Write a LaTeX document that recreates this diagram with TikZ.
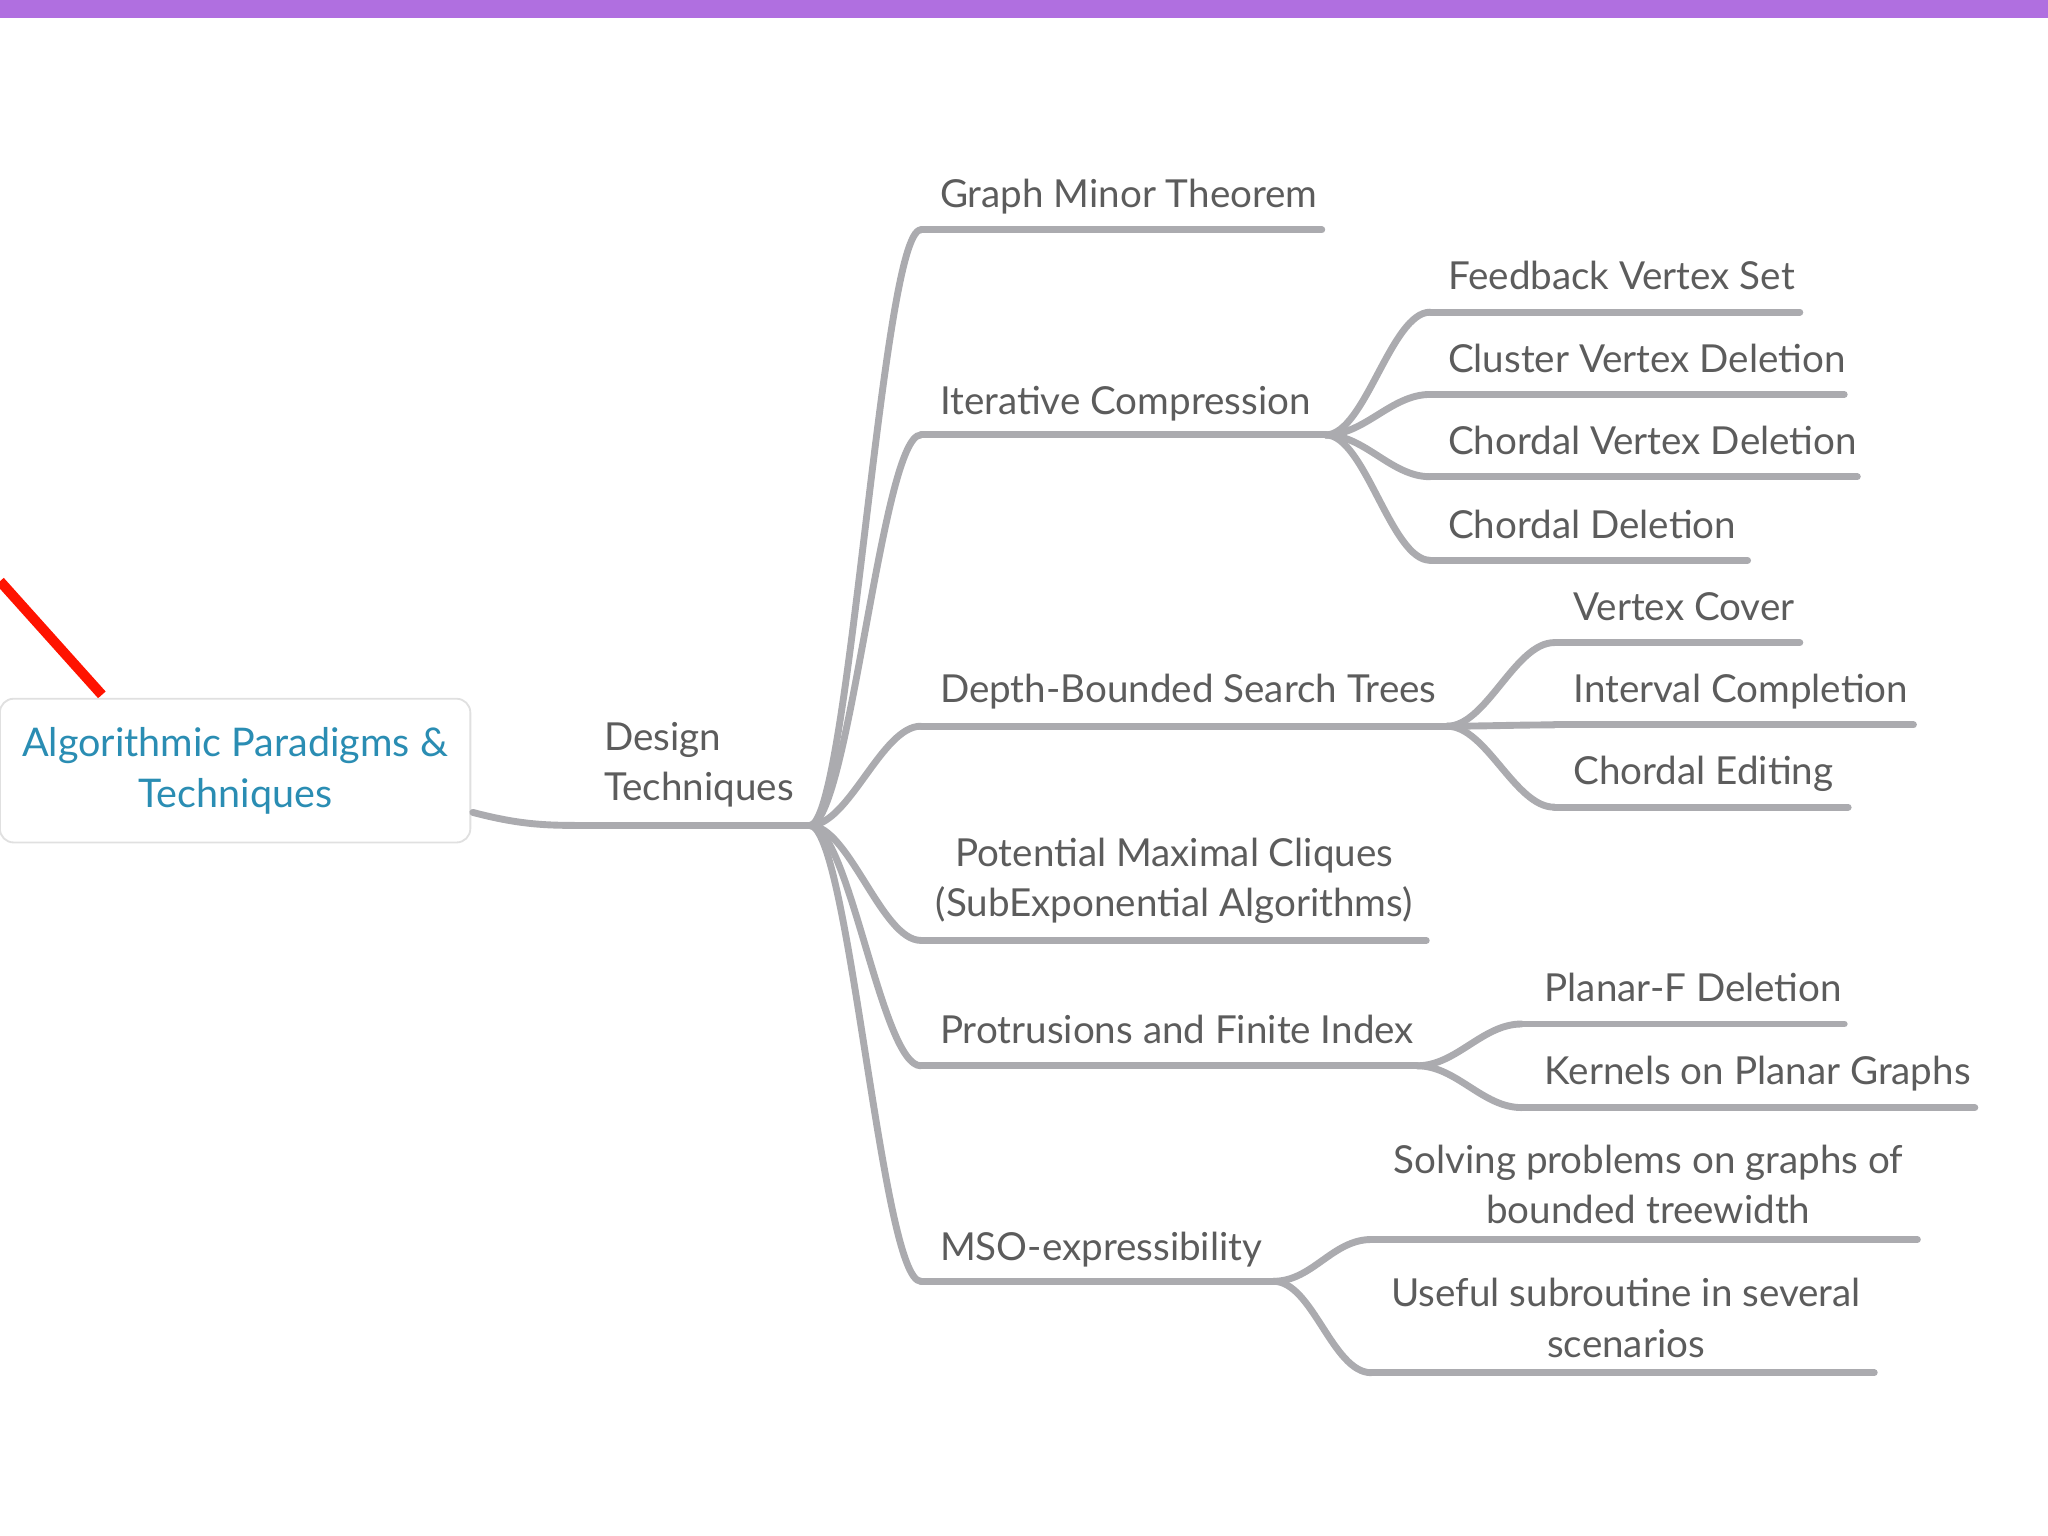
\documentclass[tikz,border=0pt]{standalone}
\usepackage{fontspec}
\setmainfont{Lato}
\usetikzlibrary{calc}
\definecolor{br}{HTML}{ABABAF}
\definecolor{tx}{HTML}{5C5C5C}
\definecolor{teal}{HTML}{2A8DB3}
\definecolor{purp}{HTML}{B06FE0}
\begin{document}
\begin{tikzpicture}[x=0.01cm,y=-0.01cm,
  br/.style={draw=br,line width=1.5pt,line cap=round},
  lbl/.style={text=tx,font=\fontsize{8.4}{11}\selectfont,inner sep=0pt,anchor=base west},
  lblc/.style={text=tx,font=\fontsize{8.4}{11}\selectfont,inner sep=0pt,align=center,anchor=south}]
\useasboundingbox (0,0) rectangle (1568,1176);
\fill[purp] (0,0) rectangle (1568,14);
\newcommand{\conn}[2]{\draw[br] (#1) .. controls ($(#1)+(30,0)$) and ($(#2)+(-30,0)$) .. (#2);}
\newcommand{\ul}[2]{\draw[br] (#1) -- (#2);}
% root
\draw[red!85!orange,line width=2.2pt] (0,445) -- (78,532);
\node[draw=black!12,fill=white,rounded corners=3pt,minimum width=3.6cm,minimum height=1.1cm,text=teal,align=center,font=\fontsize{8.6}{11}\selectfont] (root) at (180,590) {Algorithmic Paradigms \&\\Techniques};
\coordinate (r) at (362,622);
\coordinate (hub) at (620,632);
\draw[br] (r) .. controls (400,632) and (420,632) .. (450,632) -- (hub);
\node[lbl,align=left,anchor=north west] (dt) at (462,552) {Design\\Techniques};
% level 1
\coordinate (g0) at (705,176); \coordinate (g1) at (1012,176);
\coordinate (i0) at (705,333); \coordinate (i1) at (1015,333);
\coordinate (d0) at (705,556); \coordinate (d1) at (1108,556);
\coordinate (p0) at (705,720); \coordinate (p1) at (1092,720);
\coordinate (t0) at (705,816); \coordinate (t1) at (1085,816);
\coordinate (m0) at (705,981); \coordinate (m1) at (975,981);
\foreach \a/\b in {g0/g1,i0/i1,d0/d1,p0/p1,t0/t1,m0/m1}{\conn{hub}{\a}\ul{\a}{\b}}
\node[lbl] (gmt) at (719,159) {Graph Minor Theorem};
\node[lbl] (ic) at (719,317) {Iterative Compression};
\node[lbl] (dbst) at (719,538) {Depth-Bounded Search Trees};
\node[lblc] (pmc) at (899,708) {Potential Maximal Cliques\\(SubExponential Algorithms)};
\node[lbl] (pfi) at (719,799) {Protrusions and Finite Index};
\node[lbl] (mso) at (719,965) {MSO-expressibility};
% iterative compression children
\coordinate (f0) at (1095,239); \coordinate (f1) at (1378,239);
\coordinate (c0) at (1095,302); \coordinate (c1) at (1412,302);
\coordinate (v0) at (1095,365); \coordinate (v1) at (1422,365);
\coordinate (e0) at (1095,429); \coordinate (e1) at (1338,429);
\foreach \a/\b in {f0/f1,c0/c1,v0/v1,e0/e1}{\conn{i1}{\a}\ul{\a}{\b}}
\node[lbl] (fvs) at (1108,222) {Feedback Vertex Set};
\node[lbl] (cvd) at (1108,285) {Cluster Vertex Deletion};
\node[lbl] (chvd) at (1108,348) {Chordal Vertex Deletion};
\node[lbl] (chd) at (1108,412) {Chordal Deletion};
% depth bounded children
\coordinate (vc0) at (1190,492); \coordinate (vc1) at (1378,492);
\coordinate (in0) at (1190,555); \coordinate (in1) at (1465,555);
\coordinate (ce0) at (1190,618); \coordinate (ce1) at (1415,618);
\foreach \a/\b in {vc0/vc1,in0/in1,ce0/ce1}{\conn{d1}{\a}\ul{\a}{\b}}
\node[lbl] (vcn) at (1204,475) {Vertex Cover};
\node[lbl] (icn) at (1204,538) {Interval Completion};
\node[lbl] (cen) at (1204,601) {Chordal Editing};
% protrusions children
\coordinate (pf0) at (1165,784); \coordinate (pf1) at (1412,784);
\coordinate (kp0) at (1165,848); \coordinate (kp1) at (1512,848);
\foreach \a/\b in {pf0/pf1,kp0/kp1}{\conn{t1}{\a}\ul{\a}{\b}}
\node[lbl] (pfd) at (1182,767) {Planar-F Deletion};
\node[lbl] (kpg) at (1182,830) {Kernels on Planar Graphs};
% MSO children
\coordinate (s0) at (1050,949); \coordinate (s1) at (1468,949);
\coordinate (u0) at (1050,1051); \coordinate (u1) at (1435,1051);
\foreach \a/\b in {s0/s1,u0/u1}{\conn{m1}{\a}\ul{\a}{\b}}
\node[lblc] (sol) at (1262,938) {Solving problems on graphs of\\bounded treewidth};
\node[lblc] (use) at (1245,1040) {Useful subroutine in several\\scenarios};
\end{tikzpicture}
\end{document}
